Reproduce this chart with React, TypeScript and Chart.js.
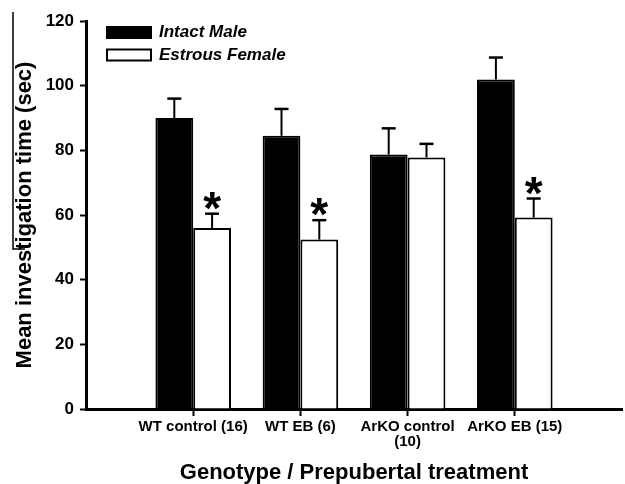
import React, { useEffect, useRef } from 'react';
import { Chart, registerables } from 'chart.js';

Chart.register(...registerables);

// ---- data ----
const categories: (string | string[])[] = ['WT control (16)', 'WT EB (6)', ['ArKO control', '(10)'], 'ArKO EB (15)'];
const seriesLabels = ['Intact Male', 'Estrous Female'];
const maleMeans = [90, 84.5, 78.7, 101.9];
const maleErrors = [6, 8.3, 8.1, 6.8];
const femaleMeans = [56, 52.4, 77.8, 59.2];
const femaleErrors = [4.4, 6, 4.2, 5.9];
const significant = [true, true, false, true];
const yTickValues = [0, 20, 40, 60, 80, 100, 120];
const xTitle = 'Genotype / Prepubertal treatment';
const yTitle = 'Mean investigation time (sec)';

const FONT = 'Arial, "Liberation Sans", sans-serif';

const meansList = [maleMeans, femaleMeans];
const errorsList = [maleErrors, femaleErrors];

const errorBarPlugin = {
  id: 'errorBars',
  afterDatasetsDraw(chart: any) {
    const ctx = chart.ctx;
    const yScale = chart.scales.y;
    meansList.forEach((means, di) => {
      const meta = chart.getDatasetMeta(di);
      means.forEach((m, i) => {
        const bar = meta.data[i + 1];
        if (!bar) return;
        const base = yScale.getPixelForValue(m);
        const top = yScale.getPixelForValue(m + errorsList[di][i]);
        ctx.save();
        ctx.strokeStyle = '#000';
        ctx.lineWidth = 2;
        ctx.beginPath();
        ctx.moveTo(bar.x, base);
        ctx.lineTo(bar.x, top);
        ctx.stroke();
        ctx.lineWidth = 2.5;
        ctx.beginPath();
        ctx.moveTo(bar.x - 7, top);
        ctx.lineTo(bar.x + 7, top);
        ctx.stroke();
        if (di === 1 && significant[i]) {
          ctx.fillStyle = '#000';
          ctx.font = `bold 46px ${FONT}`;
          ctx.textAlign = 'center';
          ctx.textBaseline = 'alphabetic';
          ctx.fillText('*', bar.x, top + 10);
        }
        ctx.restore();
      });
    });
  },
};

const legendPlugin = {
  id: 'customLegend',
  afterDraw(chart: any) {
    const ctx = chart.ctx;
    const { left, top } = chart.chartArea;
    ctx.save();
    chart.data.datasets.forEach((ds: any, i: number) => {
      const bx = left + 21;
      const by = top + 6 + i * 22.5;
      ctx.fillStyle = ds.backgroundColor;
      ctx.fillRect(bx, by, 44, 11);
      ctx.strokeStyle = '#000';
      ctx.lineWidth = 2;
      ctx.strokeRect(bx, by, 44, 11);
      ctx.fillStyle = '#000';
      ctx.font = `italic bold 17px ${FONT}`;
      ctx.textAlign = 'left';
      ctx.textBaseline = 'middle';
      ctx.fillText(ds.label, bx + 52, by + 5.5);
    });
    // cropped frame line at the left edge of the figure
    ctx.strokeStyle = '#000';
    ctx.lineWidth = 1.5;
    ctx.beginPath();
    ctx.moveTo(13, 12);
    ctx.lineTo(13, 249);
    ctx.lineTo(25, 249);
    ctx.stroke();
    ctx.restore();
  },
};

export default function App() {
  const canvasRef = useRef<HTMLCanvasElement | null>(null);

  useEffect(() => {
    document.body.style.margin = '0';
    const canvas = canvasRef.current;
    if (!canvas) return;
    Chart.defaults.font.family = FONT;
    Chart.defaults.color = '#000';

    const labels = ['', ...categories, ''];
    const chart = new Chart(canvas, {
      type: 'bar',
      data: {
        labels,
        datasets: [
          {
            label: seriesLabels[0],
            data: [null, ...maleMeans, null],
            backgroundColor: '#000000',
            borderColor: '#000000',
            borderWidth: 2,
            categoryPercentage: 0.705,
            barPercentage: 1,
          },
          {
            label: seriesLabels[1],
            data: [null, ...femaleMeans, null],
            backgroundColor: '#ffffff',
            borderColor: '#000000',
            borderWidth: 2,
            categoryPercentage: 0.705,
            barPercentage: 1,
          },
        ],
      },
      options: {
        responsive: false,
        animation: false,
        devicePixelRatio: 1,
        events: [],
        layout: { padding: { left: 0, right: 0, top: 21, bottom: 0 } },
        plugins: {
          legend: { display: false },
          tooltip: { enabled: false },
        },
        scales: {
          x: {
            type: 'category',
            offset: false,
            afterFit: (s: any) => {
              s.height = 75;
            },
            grid: {
              display: true,
              offset: false,
              drawOnChartArea: false,
              drawTicks: true,
              tickLength: 7,
              tickWidth: 2,
              tickColor: (c: any) => (c.index === 0 || c.index === labels.length - 1 ? 'rgba(0,0,0,0)' : '#000'),
            },
            border: { display: true, width: 3, color: '#000' },
            ticks: {
              autoSkip: false,
              maxRotation: 0,
              minRotation: 0,
              padding: 3,
              color: '#000',
              font: { size: 15, weight: 'bold', lineHeight: 1.0 },
            },
            title: {
              display: true,
              text: xTitle,
              color: '#000',
              font: { size: 22, weight: 'bold', lineHeight: 1.0 },
              padding: { top: 0, bottom: 0 },
            },
          },
          y: {
            type: 'linear',
            min: 0,
            max: 120,
            afterFit: (s: any) => {
              s.width = 86;
            },
            afterBuildTicks: (s: any) => {
              s.ticks = yTickValues.map((v) => ({ value: v }));
            },
            grid: {
              display: true,
              drawOnChartArea: false,
              drawTicks: true,
              tickLength: 6,
              tickWidth: 2,
              tickColor: '#000',
            },
            border: { display: true, width: 3, color: '#000' },
            ticks: {
              padding: 6,
              color: '#000',
              font: { size: 17, weight: 'bold' },
            },
            title: {
              display: true,
              text: yTitle,
              color: '#000',
              font: { size: 22, weight: 'bold' },
              padding: { top: 12, bottom: 0 },
            },
          },
        },
      } as any,
      plugins: [errorBarPlugin, legendPlugin],
    });

    return () => {
      chart.destroy();
    };
  }, []);

  return (
    <div style={{ width: 625, height: 484, position: 'relative', background: '#fff' }}>
      <canvas ref={canvasRef} width={625} height={484} />
    </div>
  );
}
